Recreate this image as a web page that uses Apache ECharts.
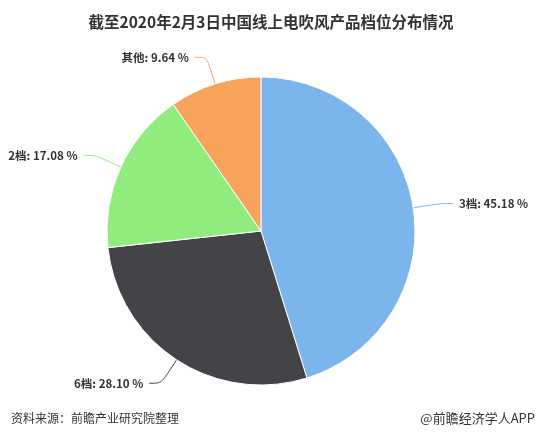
<!DOCTYPE html>
<html><head><meta charset="utf-8">
<script src="https://cdn.jsdelivr.net/npm/echarts@6/dist/echarts.min.js"></script>
<style>html,body{margin:0;padding:0;background:#fff}#c{width:542px;height:438px}</style>
</head><body><div id="c"></div>
<script>
const categories = ['3档', '6档', '2档', '其他'];
const shares = [45.18, 28.10, 17.08, 9.64];
const colors = ['#7cb5ec', '#434348', '#90ed7d', '#f7a35c'];

const chart = echarts.init(document.getElementById('c'), null, {renderer: 'canvas'});
chart.setOption({
  animation: false,
  backgroundColor: '#fff',
  title: [{
    text: '截至2020年2月3日中国线上电吹风产品档位分布情况',
    left: 'center', top: 9,
    textStyle: {fontSize: 15.5, fontWeight: 'bold', color: '#333', fontFamily: 'Noto Sans CJK SC'}
  }, {
    text: '资料来源：前瞻产业研究院整理',
    left: 6, top: 407,
    textStyle: {fontSize: 12, fontWeight: 'normal', color: '#333', fontFamily: 'Noto Sans CJK SC'}
  }, {
    text: '@前瞻经济学人APP',
    right: 2, top: 407,
    textStyle: {fontSize: 13, fontWeight: 'normal', color: '#333', fontFamily: 'Noto Sans CJK SC'}
  }],
  series: [{
    type: 'pie',
    center: [261, 231],
    radius: 154,
    startAngle: 90,
    clockwise: true,
    avoidLabelOverlap: false,
    itemStyle: {borderColor: '#fff', borderWidth: 1},
    label: {
      show: true,
      formatter: p => p.name + ': ' + shares[p.dataIndex].toFixed(2) + ' %',
      fontSize: 11.5, fontWeight: 'bold', color: '#333', fontFamily: 'Noto Sans CJK SC',
      distanceToLabelLine: 6
    },
    labelLine: {show: true, length: 28, length2: 12, smooth: 0.3, lineStyle: {width: 1}},
    emphasis: {disabled: true},
    data: categories.map((n, i) => ({name: n, value: shares[i], itemStyle: {color: colors[i]}}))
  }]
});
</script></body></html>
